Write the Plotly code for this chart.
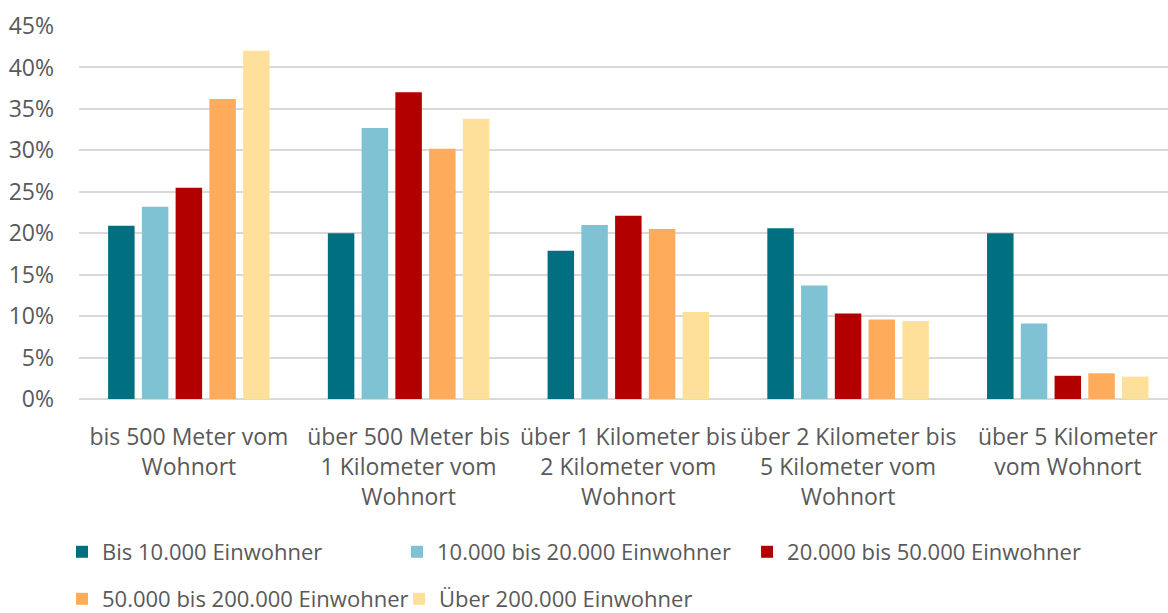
import plotly.graph_objects as go

categories = [
    "bis 500 Meter vom<br>Wohnort",
    "über 500 Meter bis<br>1 Kilometer vom<br>Wohnort",
    "über 1 Kilometer bis<br>2 Kilometer vom<br>Wohnort",
    "über 2 Kilometer bis<br>5 Kilometer vom<br>Wohnort",
    "über 5 Kilometer<br>vom Wohnort",
]

series_names = [
    "Bis 10.000 Einwohner",
    "10.000 bis 20.000 Einwohner",
    "20.000 bis 50.000 Einwohner",
    "50.000 bis 200.000 Einwohner",
    "Über 200.000 Einwohner",
]

bis_10k = [20.9, 20.0, 17.9, 20.6, 20.0]
von_10k_bis_20k = [23.2, 32.7, 21.0, 13.7, 9.1]
von_20k_bis_50k = [25.5, 37.0, 22.1, 10.3, 2.8]
von_50k_bis_200k = [36.2, 30.2, 20.5, 9.6, 3.1]
ueber_200k = [42.0, 33.8, 10.5, 9.4, 2.7]

series_values = [bis_10k, von_10k_bis_20k, von_20k_bis_50k, von_50k_bis_200k, ueber_200k]
colors = ["#006F7F", "#7FC2D3", "#B20000", "#FFAB5C", "#FFE09B"]

y_ticks = [0, 5, 10, 15, 20, 25, 30, 35, 40, 45]

FONT = "Open Sans, Segoe UI, sans-serif"
TEXT = "#595959"

# one legend box per series so the two-row layout can be placed freely
# (positions relative to the whole figure, so the plot area is not shrunk)
legend_ids = ["legend", "legend2", "legend3", "legend4", "legend5"]
legend_pos = [
    (0.0531, 0.1338),
    (0.3399, 0.1338),
    (0.6396, 0.1338),
    (0.0531, 0.0571),
    (0.3416, 0.0571),
]

fig = go.Figure()
for name, vals, col, lg in zip(series_names, series_values, colors, legend_ids):
    fig.add_trace(go.Bar(
        x=categories, y=vals, name=name,
        marker=dict(color=col, line=dict(width=0)),
        legend=lg,
    ))

legend_layout = {}
for lg, (lx, ly) in zip(legend_ids, legend_pos):
    legend_layout[lg] = dict(
        x=lx, y=ly, xref="container", yref="container",
        xanchor="left", yanchor="top",
        orientation="h",
        font=dict(family=FONT, size=22, color=TEXT),
        itemwidth=30, bgcolor="rgba(0,0,0,0)",
    )

fig.update_layout(
    width=1168, height=613,
    margin=dict(l=79, r=0, t=26, b=214),
    paper_bgcolor="white", plot_bgcolor="white",
    barmode="group", bargap=0.232, bargroupgap=0.215,
    showlegend=True,
    xaxis=dict(
        range=[-0.5, 4.456], automargin=False,
        showgrid=False, zeroline=False, showline=False,
        ticks="", tickfont=dict(family=FONT, size=23, color=TEXT),
        ticklabelstandoff=22,
    ),
    yaxis=dict(
        range=[0, 45], tickvals=y_ticks, automargin=False,
        ticktext=[f"{v}%" for v in y_ticks],
        showgrid=True, gridcolor="#D9D9D9", gridwidth=1.5,
        zeroline=True, zerolinecolor="#D9D9D9", zerolinewidth=1.5,
        showline=False, ticks="",
        tickfont=dict(family=FONT, size=23, color=TEXT),
        ticklabelstandoff=24,
    ),
    **legend_layout,
)

fig.write_html("out.html")
